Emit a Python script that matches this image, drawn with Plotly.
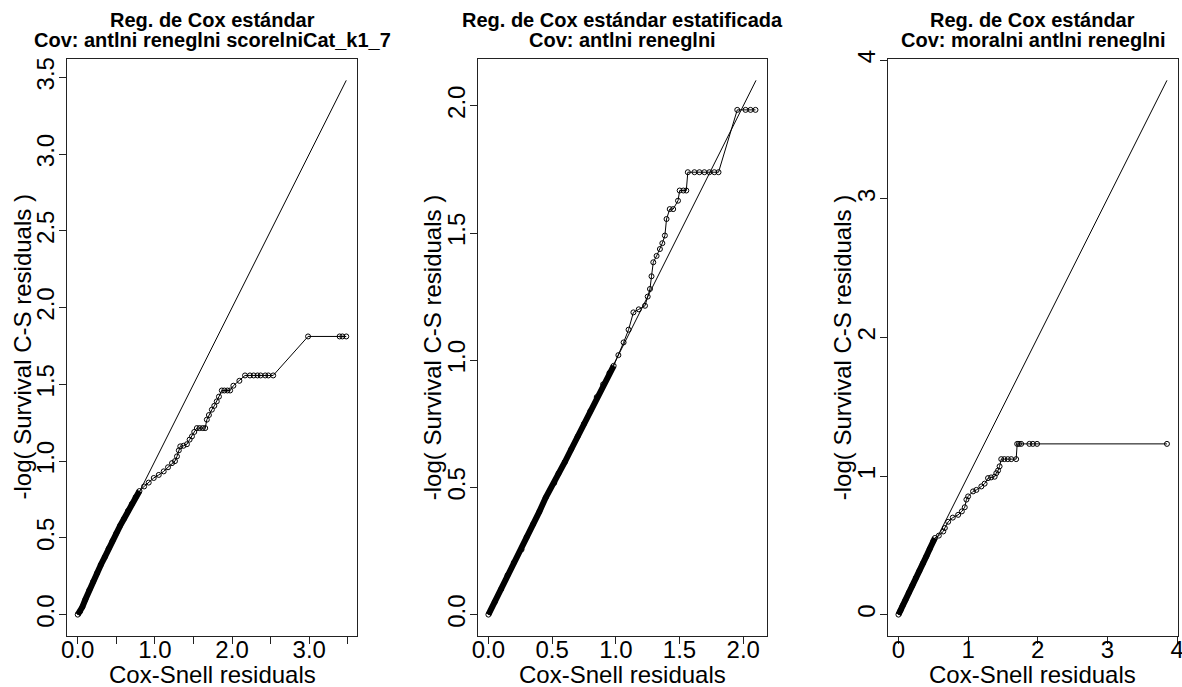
import plotly.graph_objects as go

W, H = 1182, 687

# ---------------- data ----------------
titles = [
    ["Reg. de Cox estándar", "Cov: antlni reneglni scorelniCat_k1_7"],
    ["Reg. de Cox estándar estatificada", "Cov: antlni reneglni"],
    ["Reg. de Cox estándar", "Cov: moralni antlni reneglni"],
]
x_title = "Cox-Snell residuals"
y_title = "-log( Survival C-S residuals )"

# Panel 1
p1_dense_x = [0.00, 0.03, 0.06, 0.10, 0.15, 0.20, 0.25, 0.30, 0.35, 0.40, 0.45, 0.50, 0.55, 0.60, 0.65, 0.70, 0.75, 0.80]
p1_dense_y = [0.00, 0.02, 0.05, 0.10, 0.16, 0.215, 0.27, 0.325, 0.375, 0.43, 0.48, 0.53, 0.58, 0.625, 0.675, 0.72, 0.765, 0.805]
p1_tail_x = [0.80, 0.86, 0.92, 0.985, 1.05, 1.114, 1.17, 1.222, 1.26, 1.286, 1.31, 1.329, 1.37, 1.415, 1.45, 1.48,
             1.51, 1.544, 1.58, 1.62, 1.652, 1.673, 1.70, 1.738, 1.77, 1.802, 1.83, 1.867, 1.90, 1.94, 1.975, 2.017,
             2.095, 2.168, 2.232, 2.28, 2.33, 2.37, 2.43, 2.47, 2.533, 2.985, 3.394, 3.43, 3.48]
p1_tail_y = [0.805, 0.835, 0.86, 0.89, 0.91, 0.933, 0.96, 0.987, 1.00, 1.031, 1.07, 1.096, 1.10, 1.11, 1.14, 1.161,
             1.19, 1.215, 1.215, 1.215, 1.215, 1.27, 1.30, 1.335, 1.36, 1.389, 1.42, 1.46, 1.46, 1.46, 1.46, 1.491,
             1.523, 1.558, 1.558, 1.558, 1.558, 1.558, 1.558, 1.558, 1.558, 1.812, 1.812, 1.812, 1.812]
p1_diag = [0.0, 3.48]

# Panel 2
p2_dense_x = [0.00, 0.05, 0.10, 0.15, 0.20, 0.26, 0.30, 0.35, 0.40, 0.45, 0.517, 0.55, 0.60, 0.65, 0.70, 0.75, 0.80, 0.85, 0.90, 0.95, 0.983]
p2_dense_y = [0.00, 0.05, 0.10, 0.155, 0.205, 0.256, 0.305, 0.355, 0.405, 0.46, 0.518, 0.555, 0.60, 0.65, 0.70, 0.75, 0.80, 0.855, 0.905, 0.95, 0.978]
p2_tail_x = [0.983, 1.02, 1.061, 1.10, 1.138, 1.18, 1.229, 1.25, 1.268, 1.28, 1.294, 1.32, 1.346, 1.365, 1.385, 1.398,
             1.423, 1.45, 1.488, 1.501, 1.53, 1.553, 1.565, 1.617, 1.656, 1.695, 1.734, 1.773, 1.806, 1.953, 2.018,
             2.057, 2.096]
p2_tail_y = [0.978, 1.02, 1.07, 1.12, 1.188, 1.20, 1.214, 1.25, 1.28, 1.33, 1.385, 1.41, 1.437, 1.46, 1.49, 1.555,
             1.594, 1.594, 1.627, 1.667, 1.667, 1.667, 1.739, 1.739, 1.739, 1.739, 1.739, 1.739, 1.739, 1.984, 1.984,
             1.984, 1.984]
p2_diag = [0.0, 2.10]

# Panel 3
p3_dense_x = [0.00, 0.03, 0.06, 0.10, 0.15, 0.20, 0.25, 0.30, 0.35, 0.40, 0.45, 0.50, 0.523]
p3_dense_y = [0.00, 0.03, 0.065, 0.105, 0.16, 0.21, 0.265, 0.315, 0.37, 0.42, 0.475, 0.53, 0.553]
p3_tail_x = [0.523, 0.58, 0.643, 0.666, 0.714, 0.78, 0.857, 0.91, 0.952, 0.976, 1.00, 1.071, 1.119, 1.19, 1.237,
             1.286, 1.33, 1.381, 1.405, 1.43, 1.452, 1.476, 1.52, 1.57, 1.62, 1.69, 1.705, 1.73, 1.762, 1.88, 1.93,
             1.99, 3.855]
p3_tail_y = [0.553, 0.57, 0.60, 0.625, 0.67, 0.70, 0.72, 0.745, 0.775, 0.83, 0.853, 0.889, 0.90, 0.925, 0.945,
             0.985, 0.99, 0.995, 1.021, 1.04, 1.07, 1.122, 1.122, 1.122, 1.122, 1.122, 1.232, 1.232, 1.232, 1.232,
             1.232, 1.232, 1.232]
p3_diag = [0.0, 3.855]

x_ticks = [[0, 0.5, 1, 1.5, 2, 2.5, 3, 3.5], [0, 0.5, 1, 1.5, 2], [0, 1, 2, 3, 4]]
x_ticktext = [["0.0", "", "1.0", "", "2.0", "", "3.0", ""], ["0.0", "0.5", "1.0", "1.5", "2.0"], ["0", "1", "2", "3", "4"]]
y_ticks = [[0, 0.5, 1, 1.5, 2, 2.5, 3, 3.5], [0, 0.5, 1, 1.5, 2], [0, 1, 2, 3, 4]]
y_ticktext = [["0.0", "0.5", "1.0", "1.5", "2.0", "2.5", "3.0", "3.5"], ["0.0", "0.5", "1.0", "1.5", "2.0"], ["0", "1", "2", "3", "4"]]

panels = [
    (p1_dense_x, p1_dense_y, p1_tail_x, p1_tail_y, p1_diag),
    (p2_dense_x, p2_dense_y, p2_tail_x, p2_tail_y, p2_diag),
    (p3_dense_x, p3_dense_y, p3_tail_x, p3_tail_y, p3_diag),
]

# ---------------- layout geometry (pixels) ----------------
box_x = [(67, 357), (477.7, 766.7), (887.7, 1177.7)]
box_top, box_bot = 59, 636
FONT = "Liberation Sans, Arial, sans-serif"


def fx(px):
    return px / W


def fy(px):
    return 1 - px / H


def pad_range(vals):
    lo, hi = min(vals), max(vals)
    d = (hi - lo) * 0.04
    return [lo - d, hi + d]


fig = go.Figure()
annotations = []
layout = {}
for i, (dx, dy, tx, ty, diag) in enumerate(panels):
    n = "" if i == 0 else str(i + 1)
    xa, ya = "x" + n, "y" + n
    fig.add_trace(go.Scatter(x=diag, y=diag, mode="lines", line=dict(color="black", width=1),
                             xaxis=xa, yaxis=ya, showlegend=False, hoverinfo="skip"))
    fig.add_trace(go.Scatter(x=dx, y=dy, mode="lines", line=dict(color="black", width=6),
                             xaxis=xa, yaxis=ya, showlegend=False, hoverinfo="skip"))
    fig.add_trace(go.Scatter(x=dx + tx[1:], y=dy + ty[1:], mode="lines+markers",
                             line=dict(color="black", width=1),
                             marker=dict(symbol="circle-open", size=5, color="black", line=dict(width=1)),
                             xaxis=xa, yaxis=ya, showlegend=False))
    allx = dx + tx + diag
    ally = dy + ty + diag
    x0, x1 = box_x[i]
    common = dict(showline=True, mirror=True, linecolor="#222", linewidth=1, showgrid=False, zeroline=False,
                  ticks="outside", ticklen=7, tickwidth=1, tickcolor="#222", automargin=False,
                  ticklabeloverflow="allow",
                  tickfont=dict(family=FONT, size=24, color="black"))
    layout["xaxis" + n] = dict(domain=[fx(x0), fx(x1)], range=pad_range(allx), anchor=ya,
                               tickvals=x_ticks[i], ticktext=x_ticktext[i], ticklabelstandoff=-15, **common)
    layout["yaxis" + n] = dict(domain=[fy(box_bot), fy(box_top)], range=pad_range(ally), anchor=xa,
                               tickvals=y_ticks[i], ticktext=y_ticktext[i], tickangle=-90,
                               ticklabelstandoff=-5, **common)
    cx = (x0 + x1) / 2
    annotations.append(dict(text="<b>" + titles[i][0] + "</b>", x=fx(cx), y=fy(20), xref="paper", yref="paper",
                            showarrow=False, xanchor="center", yanchor="middle",
                            font=dict(family=FONT, size=20, color="black")))
    annotations.append(dict(text="<b>" + titles[i][1] + "</b>", x=fx(cx), y=fy(40), xref="paper", yref="paper",
                            showarrow=False, xanchor="center", yanchor="middle",
                            font=dict(family=FONT, size=20, color="black")))
    annotations.append(dict(text=x_title, x=fx(cx), y=fy(674), xref="paper", yref="paper",
                            showarrow=False, xanchor="center", yanchor="middle",
                            font=dict(family=FONT, size=24, color="black")))
    annotations.append(dict(text=y_title, x=fx(x0 - 45), y=fy((box_top + box_bot) / 2), xref="paper", yref="paper",
                            showarrow=False, xanchor="center", yanchor="middle", textangle=-90,
                            font=dict(family=FONT, size=24, color="black")))

fig.update_layout(width=W, height=H, margin=dict(l=0, r=0, t=0, b=0, autoexpand=False), paper_bgcolor="white",
                  plot_bgcolor="white", annotations=annotations, **layout)
fig.write_html("out.html", config={"displayModeBar": False},
               post_script="document.body.style.margin='0';document.body.style.overflow='hidden';")
